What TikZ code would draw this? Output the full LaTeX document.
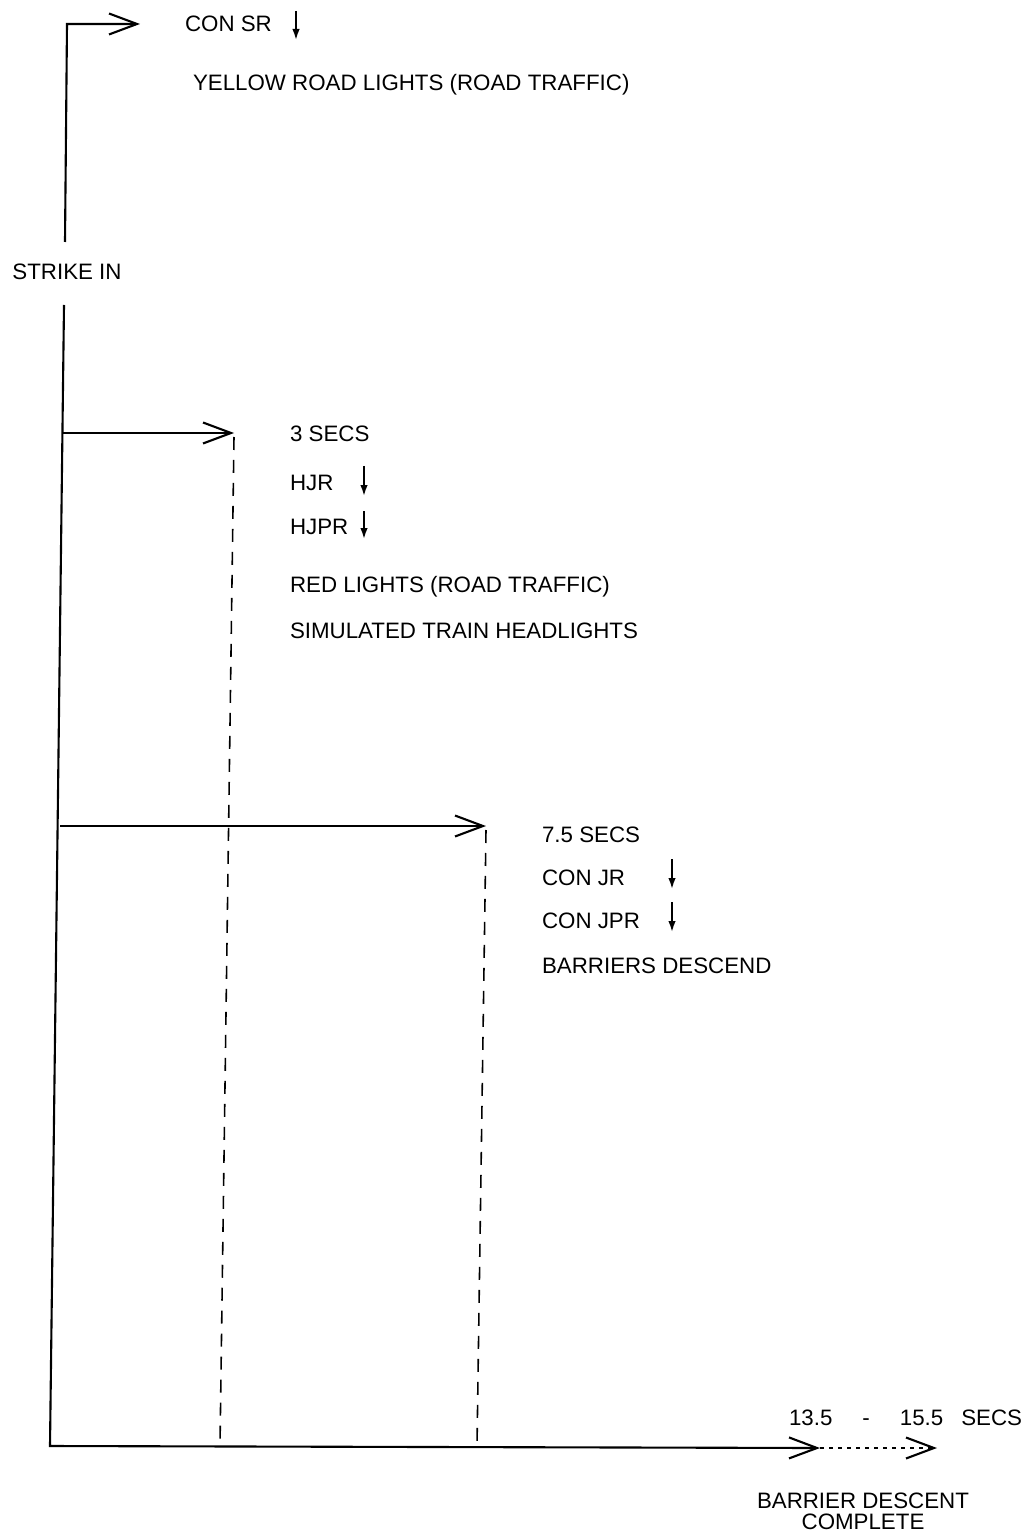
\documentclass[tikz,border=0pt]{standalone}
\usepackage{fontspec}
\setmainfont{Liberation Sans}
\usetikzlibrary{arrows.meta}

\begin{document}
\begin{tikzpicture}[x=0.02cm, y=-0.02cm, line width=1.2pt,
        lbl/.style={anchor=west, inner sep=0pt, font=\fontsize{12.7}{12}\selectfont},
        timearrow/.style={-{Straight Barb[length=0.56cm, width=0.42cm, line width=1.2pt]}},
        relay/.style={-{Latex[length=0.22cm, width=0.15cm]}, line width=1pt},
        trace/.style={line width=0.9pt, dash pattern=on 0.26cm off 0.2cm}]
        \useasboundingbox (0,0) rectangle (1029,1533);

        % Strike in, time line
        \node[lbl, anchor=center] (strike) at (67,272) {STRIKE IN};
        \coordinate (stubtop) at (65,242);
        \coordinate (stubbot) at (64,305);
        \coordinate (corner) at (67,24);
        \coordinate (origin) at (50,1446);

        % Road lights
        \coordinate (tsr) at (140,24);
        \draw[timearrow] (stubtop) -- (corner) -- (tsr);
        \node[lbl] (consr) at (184,24) {CON SR};
        \draw[relay] (296,11) -- (296,40); % SR down
        \node[lbl] (yellow) at (192,85) {YELLOW ROAD LIGHTS (ROAD TRAFFIC)};

        % 3 secs
        \coordinate (a3) at (63,433);
        \coordinate (t3) at (234,433);
        \draw[timearrow] (a3) -- (t3);
        \node[lbl] (secsthree) at (289,434) {3 SECS};
        \node[lbl] (hjr) at (289,483) {HJR};
        \draw[relay] (364,466) -- (364,496); % HJR down
        \node[lbl] (hjpr) at (289,527) {HJPR};
        \draw[relay] (364,511) -- (364,539); % HJPR down
        \node[lbl] (red) at (289,587) {RED LIGHTS (ROAD TRAFFIC)};
        \node[lbl] (sim) at (289,631) {SIMULATED TRAIN HEADLIGHTS};

        % 7.5 secs
        \coordinate (a75) at (60,826);
        \coordinate (t75) at (486,826);
        \draw[timearrow] (a75) -- (t75);
        \node[lbl] (secsseven) at (541,835) {7.5 SECS};
        \node[lbl] (conjr) at (541,878) {CON JR};
        \draw[relay] (672,859) -- (672,889); % JR down
        \node[lbl] (conjpr) at (541,921) {CON JPR};
        \draw[relay] (672,902) -- (672,932); % JPR down
        \node[lbl] (barriers) at (541,966) {BARRIERS DESCEND};

        % Descent complete
        \coordinate (tmin) at (820,1448);
        \coordinate (tmax) at (937,1448);
        \draw[timearrow] (stubbot) -- (origin) -- (tmin);
        \draw[timearrow, dash pattern=on 0.08cm off 0.1cm] (tmin) -- (tmax);
        \node[lbl] (range) at (788,1418) {13.5\hspace{0.6cm}-\hspace{0.6cm}15.5\hspace{0.36cm}SECS};
        \node[lbl, anchor=center, align=center] (complete) at (863,1511) {BARRIER DESCENT\\COMPLETE};

        % Traces down from arrow tips
        \draw[trace] ([yshift=-0.08cm]t3) -- (220,1446);
        \draw[trace] ([yshift=-0.08cm]t75) -- (477,1446);
    \end{tikzpicture}
\end{document}
